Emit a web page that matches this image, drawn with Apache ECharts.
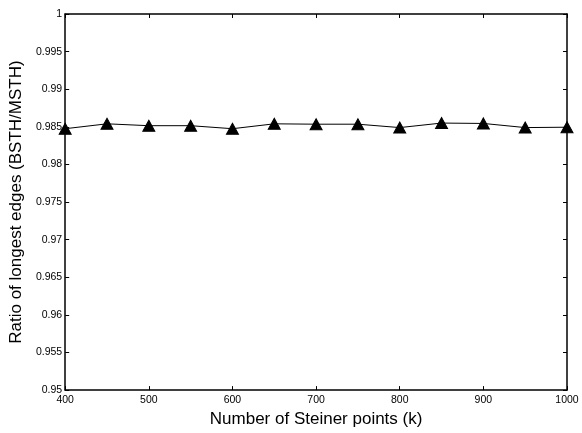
<!DOCTYPE html>
<html><head><meta charset="utf-8">
<script src="https://cdn.jsdelivr.net/npm/echarts@6/dist/echarts.min.js"></script>
<style>html,body{margin:0;padding:0;background:#fff}#c{width:582px;height:433px}</style>
</head><body><div id="c"></div>
<script>
const steinerPoints = [400, 450, 500, 550, 600, 650, 700, 750, 800, 850, 900, 950, 1000];
const ratio = [0.98475, 0.98540, 0.98515, 0.98515, 0.98475, 0.98540, 0.98535, 0.98535, 0.98490, 0.98550, 0.98545, 0.98490, 0.98495];
const xTitle = 'Number of Steiner points (k)';
const yTitle = 'Ratio of longest edges (BSTH/MSTH)';

const font = 'Liberation Sans, Arial, Helvetica, sans-serif';
const axisLine = {show: true, lineStyle: {color: '#000', width: 1.5}};
const tick = {show: true, inside: true, length: 4, lineStyle: {color: '#000'}};
const chart = echarts.init(document.getElementById('c'), null, {renderer: 'canvas'});
chart.setOption({
  animation: false,
  backgroundColor: '#fff',
  grid: {left: 65, right: 15, top: 14, bottom: 39, containLabel: false},
  xAxis: [{
    type: 'value', min: 400, max: 1000, interval: 100,
    name: xTitle, nameLocation: 'middle', nameGap: 17,
    nameTextStyle: {fontFamily: font, fontSize: 17, color: '#000'},
    axisLine: axisLine, axisTick: tick, splitLine: {show: false},
    axisLabel: {fontFamily: font, fontSize: 10.5, color: '#000', margin: 5,
      formatter: v => String(v)}
  }, {
    type: 'value', position: 'top', min: 400, max: 1000, interval: 100,
    axisLine: axisLine, axisTick: tick, splitLine: {show: false}, axisLabel: {show: false}
  }],
  yAxis: [{
    type: 'value', min: 0.95, max: 1, interval: 0.005,
    name: yTitle, nameLocation: 'middle', nameGap: 37,
    nameTextStyle: {fontFamily: font, fontSize: 17, color: '#000'},
    axisLine: axisLine, axisTick: tick, splitLine: {show: false},
    axisLabel: {fontFamily: font, fontSize: 10.5, color: '#000', margin: 3,
      formatter: v => String(+v.toFixed(3))}
  }, {
    type: 'value', position: 'right', min: 0.95, max: 1, interval: 0.005,
    axisLine: axisLine, axisTick: tick, splitLine: {show: false}, axisLabel: {show: false}
  }],
  series: [{
    type: 'line',
    data: steinerPoints.map((x, i) => [x, ratio[i]]),
    symbol: 'triangle', symbolSize: [12, 11], showAllSymbol: true,
    lineStyle: {color: '#000', width: 1},
    itemStyle: {color: '#000', borderColor: '#000'},
    clip: false
  }]
});
</script></body></html>
